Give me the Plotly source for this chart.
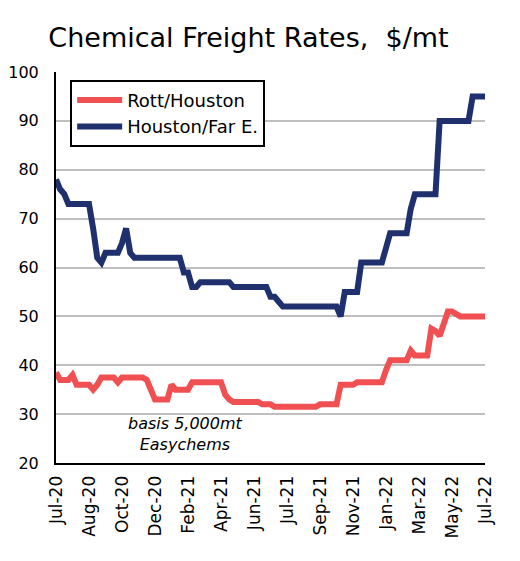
import pandas as pd
import plotly.graph_objects as go

# Weekly observations, Fridays from 3 Jul 2020 to 1 Jul 2022
weeks = pd.date_range("2020-07-03", periods=105, freq="7D")

rott_houston = [
    38.5, 37, 37, 37, 38, 36, 36, 36, 36, 35,
    36, 37.5, 37.5, 37.5, 37.5, 36.5, 37.5, 37.5, 37.5, 37.5,
    37.5, 37.5, 37, 35, 33, 33, 33, 33, 36, 35,
    35, 35, 35, 36.5, 36.5, 36.5, 36.5, 36.5, 36.5, 36.5,
    36.5, 34, 33, 32.5, 32.5, 32.5, 32.5, 32.5, 32.5, 32.5,
    32, 32, 32, 31.5, 31.5, 31.5, 31.5, 31.5, 31.5, 31.5,
    31.5, 31.5, 31.5, 31.5, 32, 32, 32, 32, 32, 36,
    36, 36, 36, 36.5, 36.5, 36.5, 36.5, 36.5, 36.5, 36.5,
    39, 41, 41, 41, 41, 41, 43, 42, 42, 42,
    42, 47.5, 47, 46, 49, 51, 51, 50.5, 50, 50,
    50, 50, 50, 50, 50,
]

houston_far_east = [
    78, 76, 75, 73, 73, 73, 73, 73, 73, 68,
    62, 61, 63, 63, 63, 63, 65, 68, 63, 62,
    62, 62, 62, 62, 62, 62, 62, 62, 62, 62,
    62, 59, 59, 56, 56, 57, 57, 57, 57, 57,
    57, 57, 57, 56, 56, 56, 56, 56, 56, 56,
    56, 56, 54, 54, 53, 52, 52, 52, 52, 52,
    52, 52, 52, 52, 52, 52, 52, 52, 52, 50,
    55, 55, 55, 55, 61, 61, 61, 61, 61, 61,
    64, 67, 67, 67, 67, 67, 72, 75, 75, 75,
    75, 75, 75, 90, 90, 90, 90, 90, 90, 90,
    90, 95, 95, 95, 95,
]

series_names = ["Rott/Houston", "Houston/Far E."]
series_colors = ["#F15053", "#20306E"]

FONT = "'DejaVu Sans', sans-serif"

fig = go.Figure()
for name, vals, col in zip(series_names, [rott_houston, houston_far_east], series_colors):
    fig.add_trace(go.Scatter(
        x=weeks, y=vals, mode="lines", name=name,
        line=dict(color=col, width=6),
    ))

fig.add_annotation(
    x=0.303, y=0.074, xref="paper", yref="paper",
    xanchor="center", yanchor="middle",
    text="<i>basis 5,000mt</i><br><i>Easychems</i>",
    showarrow=False, align="center",
    font=dict(family=FONT, size=16, color="black"),
)

fig.update_layout(
    width=520, height=561,
    margin=dict(l=48, r=43, t=64, b=106),
    paper_bgcolor="white", plot_bgcolor="white",
    font=dict(family=FONT, color="black"),
    title=dict(text="Chemical Freight Rates,  $/mt", x=0.4625, xanchor="center",
               y=0.947, yanchor="middle",
               font=dict(family=FONT, size=27, color="black")),
    showlegend=True,
    legend=dict(
        x=0.033, y=0.98, xanchor="left", yanchor="top",
        bordercolor="black", borderwidth=2, bgcolor="white",
        font=dict(family=FONT, size=18, color="black"),
        tracegroupgap=0, itemwidth=45,
    ),
)

fig.update_xaxes(
    range=[weeks[0], weeks[-1]],
    tick0="2020-07-03", dtick=56 * 86400000,
    tickformat="%b-%y", tickangle=-90,
    tickfont=dict(family=FONT, size=17, color="black"),
    showgrid=False, showline=True, linecolor="black", linewidth=2,
    ticks="", zeroline=False, ticklabelstandoff=4, automargin=False,
)
fig.update_yaxes(
    range=[20, 100], dtick=10,
    tickfont=dict(family=FONT, size=16, color="black"),
    showgrid=True, gridcolor="#BFBFBF", gridwidth=1.5,
    showline=True, linecolor="black", linewidth=2,
    ticks="", zeroline=False, ticklabelstandoff=12, automargin=False,
)

fig.write_html("out.html")
